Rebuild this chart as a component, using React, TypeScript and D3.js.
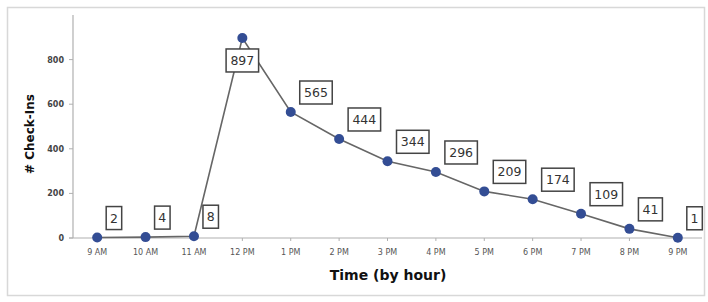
import React from "react";
import * as d3 from "d3";

const hours = ["9 AM", "10 AM", "11 AM", "12 PM", "1 PM", "2 PM", "3 PM", "4 PM", "5 PM", "6 PM", "7 PM", "8 PM", "9 PM"];
const checkIns = [2, 4, 8, 897, 565, 444, 344, 296, 209, 174, 109, 41, 1];
const yTicks = [0, 200, 400, 600, 800];

const W = 708, H = 302;
const left = 73, right = 702, top = 15, bottom = 238;

export default function App() {
  const x = d3.scaleBand<string>().domain(hours).range([left, right]);
  const y = d3.scaleLinear().domain([0, 1000]).range([bottom, top]);
  const cx = (h: string) => (x(h) as number) + x.bandwidth() / 2;
  const line = d3.line<number>().x((_, i) => cx(hours[i])).y((v) => y(v));

  return (
    <svg width={W} height={H} style={{ position: "absolute", left: 0, top: 0 }}>
      <rect x={0} y={0} width={W} height={H} fill="#fff" />
      <rect x={7.5} y={7.5} width={697} height={288} fill="none" stroke="#d8d8d8" strokeWidth={1.5} />
      {/* axes */}
      <line x1={left} x2={left} y1={top} y2={bottom} stroke="#b0b0b0" strokeWidth={1.2} />
      <line x1={left - 4} x2={right} y1={bottom} y2={bottom} stroke="#b0b0b0" strokeWidth={1.2} />
      {yTicks.map((t) => (
        <g key={t}>
          <line x1={left - 4} x2={left} y1={y(t)} y2={y(t)} stroke="#b0b0b0" />
          <text x={left - 9} y={y(t) + 3} fontSize={8} fontWeight="bold" textAnchor="end" fill="#444" fontFamily="DejaVu Sans, Verdana, sans-serif">{t}</text>
        </g>
      ))}
      {hours.map((h) => (
        <g key={h}>
          <line x1={cx(h)} x2={cx(h)} y1={bottom} y2={bottom + 3} stroke="#b0b0b0" />
          <text x={cx(h)} y={bottom + 17} fontSize={8} textAnchor="middle" fill="#555" fontFamily="DejaVu Sans, Verdana, sans-serif">{h}</text>
        </g>
      ))}
      <text x={388} y={280} fontSize={14} fontWeight="bold" textAnchor="middle" fill="#111" fontFamily="DejaVu Sans, Verdana, sans-serif">Time (by hour)</text>
      <text transform={`translate(34, 134) rotate(-90)`} fontSize={12} fontWeight="bold" textAnchor="middle" fill="#111" fontFamily="DejaVu Sans, Verdana, sans-serif"># Check-Ins</text>
      {/* line */}
      <path d={line(checkIns) || ""} fill="none" stroke="#666" strokeWidth={1.6} />
      {checkIns.map((v, i) => (
        <circle key={i} cx={cx(hours[i])} cy={y(v)} r={5} fill="#334d94" />
      ))}
      {/* labels */}
      {checkIns.map((v, i) => {
        const s = String(v);
        const bw = 7 + s.length * 8.5;
        const bh = 23;
        const px = cx(hours[i]);
        const py = y(v);
        const below = v === d3.max(checkIns);
        const bx = below ? px - bw / 2 : px + 9;
        const by = below ? py + 11 : py - 8 - bh;
        return (
          <g key={"l" + i}>
            <rect x={bx} y={by} width={bw} height={bh} fill="#fff" stroke="#444" strokeWidth={1.5} />
            <text x={bx + bw / 2} y={by + 16} fontSize={12.5} textAnchor="middle" fill="#333" fontFamily="DejaVu Sans, Verdana, sans-serif">{s}</text>
          </g>
        );
      })}
    </svg>
  );
}
